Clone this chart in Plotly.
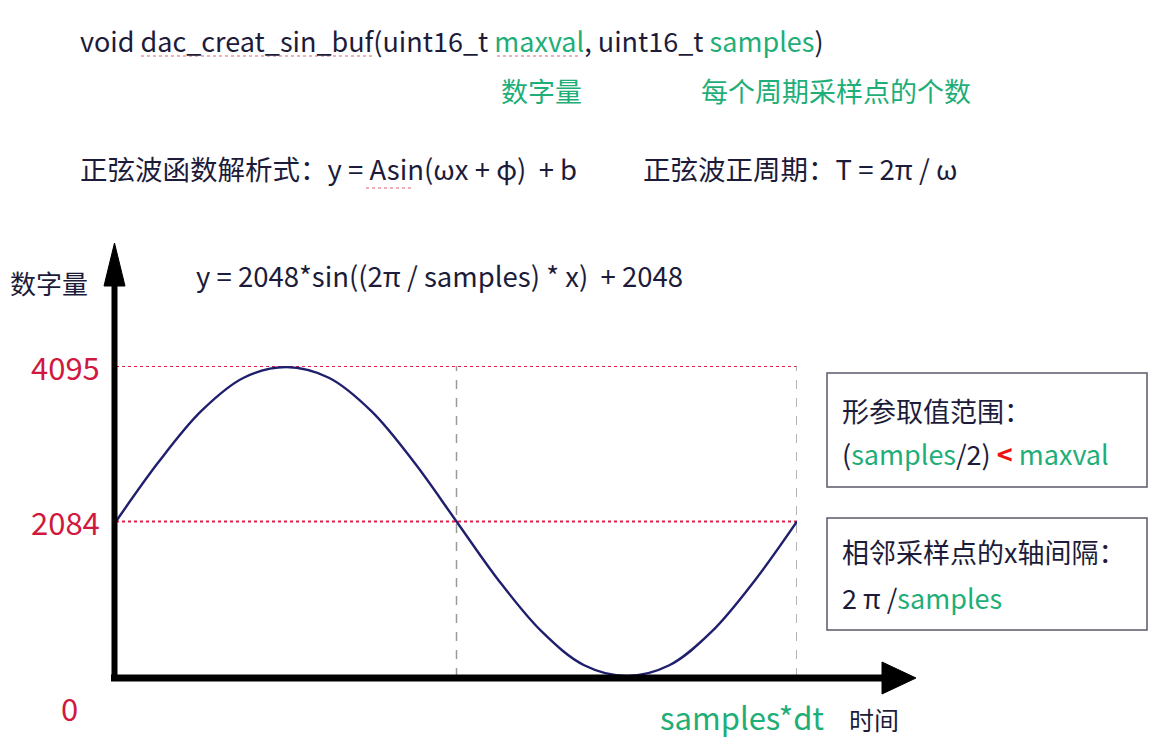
import plotly.graph_objects as go

W, H = 1152, 746

# ---- data ----
sample_idx = list(range(17))  # x positions in 1/16 of one period (samples*dt)
digital_val = [2048, 2830, 3500, 3940, 4080, 3940, 3500, 2830, 2048,
               1265, 600, 155, 15, 155, 600, 1265, 2048]
level_vals = [4095, 2048]
level_labels = ["4095", "2084"]
zero_label = "0"
period_marks = [8, 16]

DARK = "#1c1c3a"
GREEN = "#1fae78"
RED = "#d0193f"
FONT = "Noto Sans CJK SC"

def px(x):
    return x / W

def py(y):
    return 1 - y / H

fig = go.Figure()

fig.add_trace(go.Scatter(
    x=sample_idx, y=digital_val, mode="lines",
    line=dict(color="#1f1f6e", width=2.4, shape="spline", smoothing=1.0),
    hoverinfo="skip", showlegend=False))

x_dom = [px(116), px(797)]
y_dom = [py(677), py(366)]

fig.update_layout(
    width=W, height=H,
    margin=dict(l=0, r=0, t=0, b=0),
    paper_bgcolor="white", plot_bgcolor="rgba(0,0,0,0)",
    xaxis=dict(domain=x_dom, range=[0, 16], visible=False, fixedrange=True),
    yaxis=dict(domain=y_dom, range=[0, 4095], visible=False, fixedrange=True),
    font=dict(family=FONT, color=DARK),
    showlegend=False,
)

shapes = []
# red dotted levels
for v in level_vals:
    shapes.append(dict(type="line", xref="x", yref="y", x0=0, x1=16, y0=v, y1=v,
                       line=dict(color="#e0204a", width=2, dash="dot"), layer="below"))
# grey dashed period marks
for m in period_marks:
    shapes.append(dict(type="line", xref="x", yref="y", x0=m, x1=m, y0=0, y1=4095,
                       line=dict(color="#9a9a9a", width=1.5, dash="dash"), layer="below"))
# axes arrows (paper coords)
shapes.append(dict(type="line", xref="paper", yref="paper",
                   x0=px(111), x1=px(886), y0=py(678), y1=py(678),
                   line=dict(color="black", width=7)))
shapes.append(dict(type="path", xref="paper", yref="paper",
                   path=f"M {px(882)},{py(662)} L {px(882)},{py(694)} L {px(916)},{py(678)} Z",
                   fillcolor="black", line=dict(color="black", width=1)))
shapes.append(dict(type="line", xref="paper", yref="paper",
                   x0=px(114.5), x1=px(114.5), y0=py(681), y1=py(283),
                   line=dict(color="black", width=6)))
shapes.append(dict(type="path", xref="paper", yref="paper",
                   path=f"M {px(104)},{py(286)} L {px(125)},{py(286)} L {px(114.5)},{py(243)} Z",
                   fillcolor="black", line=dict(color="black", width=1)))
# boxes
for (x0, y0, x1, y1) in [(827, 373, 1147, 487), (827, 518, 1147, 630)]:
    shapes.append(dict(type="rect", xref="paper", yref="paper",
                       x0=px(x0), x1=px(x1), y0=py(y0), y1=py(y1),
                       line=dict(color="#5a5a6a", width=1.5), fillcolor="white"))
# spell-check underlines
for (x0, x1, y) in [(141, 372, 56), (497, 580, 56), (366, 414, 188)]:
    shapes.append(dict(type="line", xref="paper", yref="paper",
                       x0=px(x0), x1=px(x1), y0=py(y), y1=py(y),
                       line=dict(color="#e06070", width=1.2, dash="dot")))
fig.update_layout(shapes=shapes)

def g(t):
    return f"<span style='color:{GREEN}'>{t}</span>"

def ann(x, y, text, size, color=DARK, xanchor="left"):
    fig.add_annotation(xref="paper", yref="paper", x=px(x), y=py(y), text=text,
                       showarrow=False, xanchor=xanchor, yanchor="middle",
                       font=dict(size=size, color=color, family=FONT))

ann(78, 40, "void dac_creat_sin_buf(uint16_t " + g("maxval") + ", uint16_t " + g("samples") + ")", 27)
ann(499, 91, "数字量", 27, GREEN)
ann(699, 91, "每个周期采样点的个数", 27, GREEN)
ann(78, 168, "正弦波函数解析式：y = Asin(ωx + φ)  + b", 27.5)
ann(641, 168, "正弦波正周期：T = 2π / ω", 27.5)
ann(8, 283, "数字量", 26)
ann(194, 275, "y = 2048*sin((2π / samples) * x)  + 2048", 27.5)

for v, lab in zip(level_vals, level_labels):
    fig.add_annotation(xref="paper", yref="y", x=px(102), y=v, text=lab,
                       showarrow=False, xanchor="right", yanchor="middle",
                       font=dict(size=31, color=RED, family=FONT))
fig.add_annotation(xref="paper", yref="y", x=px(69), y=0, yshift=-30, text=zero_label,
                   showarrow=False, xanchor="center", yanchor="middle",
                   font=dict(size=31, color=RED, family=FONT))

ann(658, 716, "samples*dt", 31, GREEN)
ann(847, 719, "时间", 25)

ann(840, 410, "形参取值范围：", 27)
ann(840, 454, "(" + g("samples") + "/2) <b><span style='color:#ee1111'>&lt;</span></b> " + g("maxval"), 27)
ann(840, 551, "相邻采样点的x轴间隔：", 27)
ann(840, 597, "2 π /" + g("samples"), 27)

fig.write_html("out.html", config={"displayModeBar": False},
               post_script="document.body.style.margin='0';")
